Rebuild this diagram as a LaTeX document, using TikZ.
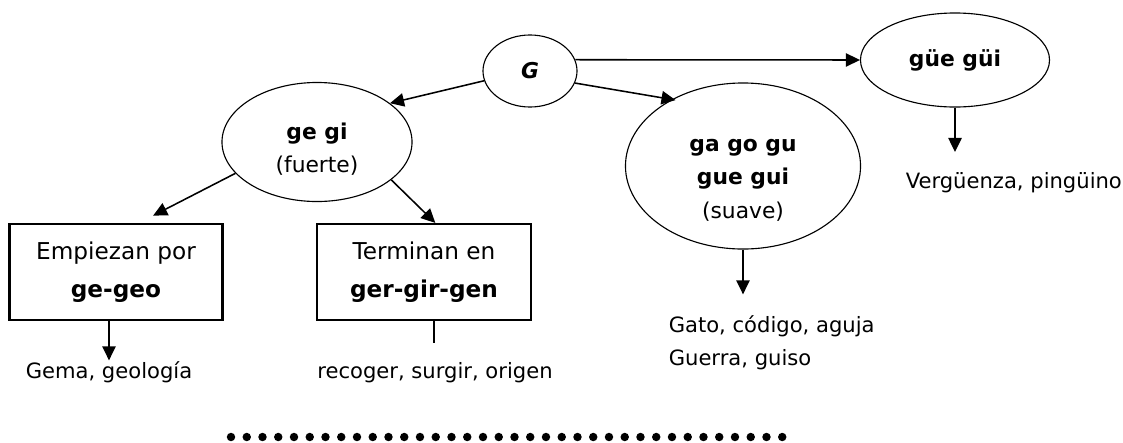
\documentclass[tikz,border=0pt]{standalone}
\usepackage{fontspec}
\setmainfont{DejaVu Sans}
\usetikzlibrary{shapes.geometric,arrows.meta}
\newcommand{\toppad}[1]{\rule{0pt}{#1}}

\begin{document}
\begin{tikzpicture}[x=0.025cm,y=-0.025cm,line width=1.1pt,>={Triangle[length=10pt,width=9.5pt]},
    main node/.style={ellipse,draw,line width=0.8pt,inner sep=0pt,align=center,font=\fontsize{15.5}{23.5}\selectfont},
    box node/.style={rectangle,draw,line width=1.5pt,inner sep=0pt,align=center,minimum height=2.4cm,font=\fontsize{16.5}{27}\selectfont},
    word node/.style={inner sep=0pt,font=\fontsize{15}{20}\selectfont},
    dot row/.style={line width=6pt,line cap=round,dash pattern=on 0pt off 11.2pt}]
        \useasboundingbox (0,0) rectangle (1123,442);

        \node[main node,minimum width=2.35cm,minimum height=1.8cm] at (530,71) (g) {\textbf{\textit{G}}};
        \node[main node,minimum width=4.75cm,minimum height=2.975cm] at (317,142) (gegi) {\toppad{22pt}\textbf{ge gi}\\(fuerte)};
        \node[main node,minimum width=5.875cm,minimum height=4.15cm] at (743,166) (gago) {\toppad{29pt}\textbf{ga go gu}\\\textbf{gue gui}\\(suave)};
        \node[main node,minimum width=4.725cm,minimum height=2.35cm] at (955,60) (guegui) {\textbf{güe güi}};
        \node[box node,minimum width=5.325cm] at (116,272) (empiezan) {Empiezan por\\\textbf{ge-geo}};
        \node[box node,minimum width=5.35cm] at (424,272) (terminan) {Terminan en\\\textbf{ger-gir-gen}};

        \node[word node,anchor=base] at (109,378) (gema) {Gema, geología};
        \node[word node,anchor=base] at (435,378) (recoger) {recoger, surgir, origen};
        \node[word node,anchor=base west] at (668,332) (gato) {Gato, código, aguja};
        \node[word node,anchor=base west] at (668,365) (guerra) {Guerra, guiso};
        \node[word node,anchor=base west] at (905,188) (verguenza) {Vergüenza, pingüino};

        \coordinate (termend) at (434,343);
        \coordinate (dotsL) at (231,437);
        \coordinate (dotsR) at (783.5,437);

        \path[->]
            (g.192) edge (gegi.28)
            (g.14) edge (guegui.west)
            (g.-15) edge[shorten >=-0.1cm] (gago.137)
            (gegi.201) edge[shorten >=0.4cm] (empiezan.65)
            (gegi.-27) edge (terminan.77)
            (empiezan.south -| gema.north) edge (gema.north)
            (gago.south) edge[shorten >=0.5cm] (gago.south |- gato.north)
            (guegui.south) edge[shorten >=0.48cm] (guegui.south |- verguenza.north)
            ;
        \draw (terminan.south -| termend) -- (termend);
        \draw[dot row] (dotsL) -- (dotsR);
    \end{tikzpicture}
\end{document}
